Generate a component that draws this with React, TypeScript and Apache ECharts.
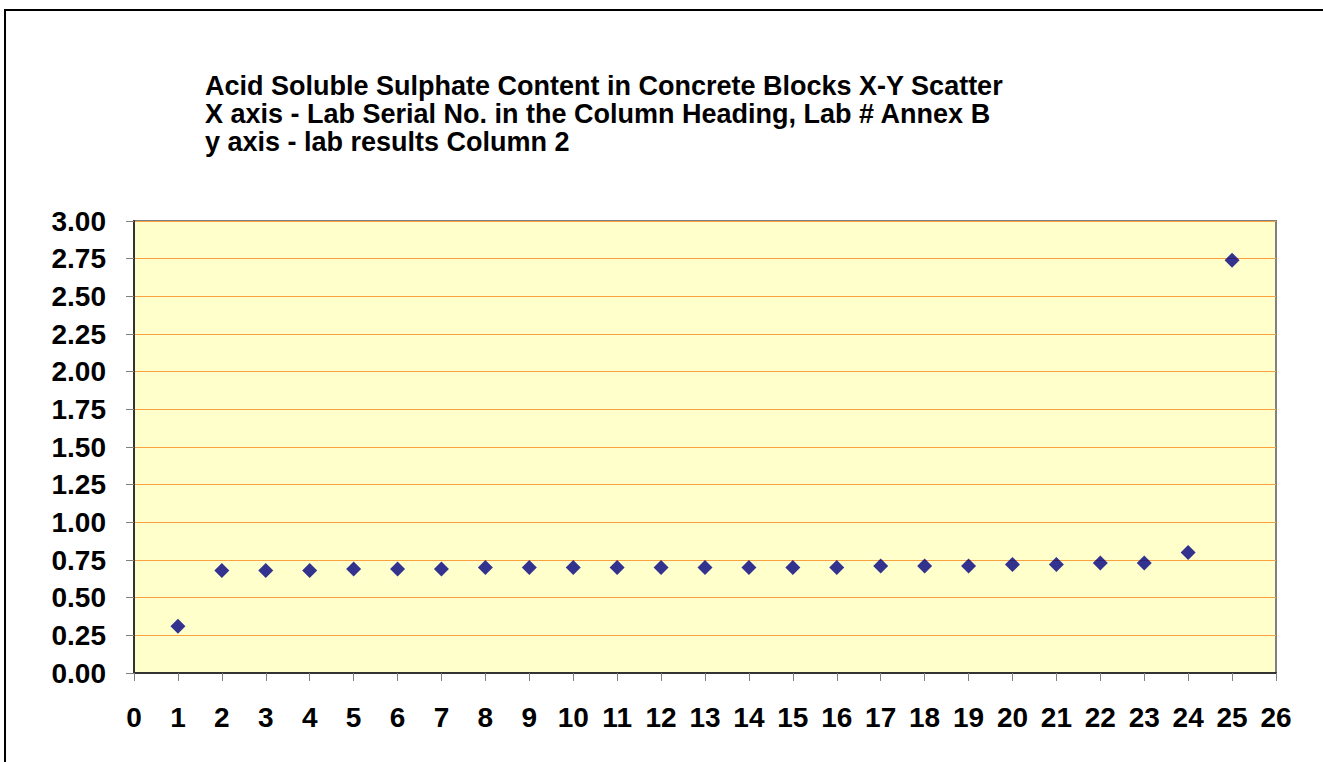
import React, { useEffect, useRef } from "react";
import * as echarts from "echarts";

const labNumbers: number[] = [1, 2, 3, 4, 5, 6, 7, 8, 9, 10, 11, 12, 13, 14, 15, 16, 17, 18, 19, 20, 21, 22, 23, 24, 25];
const labResults: number[] = [0.31, 0.68, 0.68, 0.68, 0.69, 0.69, 0.69, 0.70, 0.70, 0.70, 0.70, 0.70, 0.70, 0.70, 0.70, 0.70, 0.71, 0.71, 0.71, 0.72, 0.72, 0.73, 0.73, 0.80, 2.74];
const titleLines: string[] = [
  "Acid Soluble Sulphate Content in Concrete Blocks X-Y Scatter",
  "X axis - Lab Serial No. in the Column Heading, Lab # Annex B",
  "y axis - lab results Column 2",
];

const FONT = "'Liberation Sans', Arial, Helvetica, sans-serif";

export default function App() {
  const ref = useRef<HTMLDivElement>(null);
  useEffect(() => {
    if (!ref.current) return;
    const chart = echarts.init(ref.current, undefined, { renderer: "svg" });
    chart.setOption({
      animation: false,
      backgroundColor: "#ffffff",
      graphic: [
        {
          type: "rect",
          shape: { x: 5, y: 10, width: 1400, height: 900 },
          style: { fill: "none", stroke: "#000000", lineWidth: 2 },
          silent: true,
        },
        {
          type: "text",
          x: 205,
          y: 72,
          style: {
            text: titleLines.join("\n"),
            font: `bold 27px ${FONT}`,
            lineHeight: 28,
            fill: "#000000",
            textVerticalAlign: "top",
            textAlign: "left",
          },
        },
      ],
      grid: {
        left: 134,
        top: 221,
        right: 47,
        bottom: 89,
        show: true,
        backgroundColor: "#FFFFCC",
        borderColor: "#808080",
        borderWidth: 2,
        containLabel: false,
      },
      xAxis: {
        type: "value",
        min: 0,
        max: 26,
        interval: 1,
        axisLine: { show: true, onZero: false, lineStyle: { color: "#333333", width: 2 } },
        axisTick: { show: true, inside: false, length: 8, lineStyle: { color: "#808080", width: 1 } },
        splitLine: { show: false },
        axisLabel: {
          margin: 30,
          fontSize: 28,
          fontWeight: "bold",
          fontFamily: FONT,
          color: "#000000",
        },
      },
      yAxis: {
        type: "value",
        min: 0,
        max: 3,
        interval: 0.25,
        axisLine: { show: true, onZero: false, lineStyle: { color: "#333333", width: 2 } },
        axisTick: { show: true, inside: false, length: 8, lineStyle: { color: "#808080", width: 1 } },
        splitLine: { show: true, lineStyle: { color: "#F9A040", width: 1 } },
        axisLabel: {
          margin: 28,
          fontSize: 28,
          fontWeight: "bold",
          fontFamily: FONT,
          color: "#000000",
          formatter: (v: number) => v.toFixed(2),
        },
      },
      series: [
        {
          type: "scatter",
          data: labNumbers.map((x, i) => [x, labResults[i]]),
          symbol: "diamond",
          symbolSize: 15,
          itemStyle: { color: "#000080" },
        },
      ],
    });
    return () => chart.dispose();
  }, []);
  return (
    <div
      ref={ref}
      style={{ position: "fixed", left: 0, top: 0, width: 1323, height: 762 }}
    />
  );
}
